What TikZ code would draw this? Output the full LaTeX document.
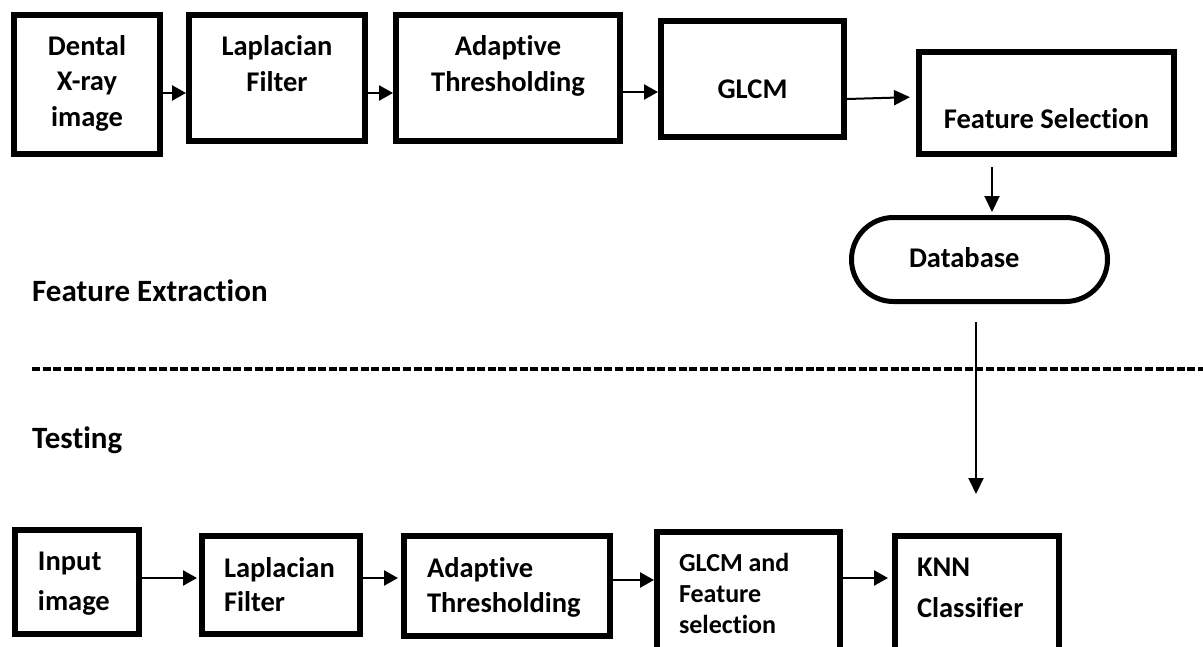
\documentclass[tikz,border=0pt]{standalone}
\usepackage{fontspec}
\setmainfont{Carlito}[Ligatures=NoCommon]
\usetikzlibrary{arrows.meta}
\newcommand\btc[5]{\parbox[c][#2pt][t]{#1pt}{\centering\baselineskip=#4pt\relax\vspace*{\dimexpr#3pt-24pt\relax}\rule{0pt}{24pt}#5\par}}
\newcommand\btl[6]{\parbox[c][#2pt][t]{#1pt}{\raggedright\leftskip=#5pt\relax\baselineskip=#4pt\relax\vspace*{\dimexpr#3pt-24pt\relax}\rule{0pt}{24pt}#6\par}}
\tikzset{
  procbox/.style={draw, line width=6pt, inner sep=0pt, font=\fontsize{28.5}{36}\selectfont\bfseries},
  dbbox/.style={draw, line width=5pt, inner sep=0pt, rounded corners=42pt, font=\fontsize{28.5}{36}\selectfont\bfseries},
  lbl/.style={inner sep=0pt, font=\fontsize{31}{37}\selectfont\bfseries},
  arr/.style={-{Triangle[length=14pt,width=15pt]}, line width=2.5pt},
  arrthin/.style={-{Triangle[length=16pt,width=15pt]}, line width=2pt},
  sep/.style={line width=4pt, dash pattern=on 8pt off 2.6pt}
}
\begin{document}
\begin{tikzpicture}[x=1pt,y=-1pt]
\useasboundingbox (0,0) rectangle (1203,646);
\clip (0,0) rectangle (1203,646);
% top row
\node[procbox] (B1) at (87,84.5) {\btc{146}{139}{40}{35.5}{Dental\\X-ray\\image}};
\node[procbox] (B2) at (277,78) {\btc{176}{126}{40}{36}{Laplacian\\Filter}};
\node[procbox] (B3) at (508,78) {\btc{224}{126}{40}{36}{Adaptive\\Thresholding}};
\node[procbox] (B4) at (752.5,79) {\btc{183}{116}{77}{36}{GLCM}};
\node[procbox] (B5) at (1046.5,103) {\btc{255}{102}{76}{36}{Feature Selection}};
\node[dbbox] (DB) at (979.5,259.5) {\btl{256}{84}{49.5}{36}{57.5}{Database}};
% labels
\node[lbl, anchor=base west] (fe) at (32,301) {Feature Extraction};
\node[lbl, anchor=base west] (ts) at (32,448) {Testing};
\draw[sep] (32,369) -- (1203,369);
% bottom row
\node[procbox] (C1) at (77,582) {\btl{124}{104}{40}{40}{23}{Input\\image}};
\node[procbox] (C2) at (281,585) {\btl{158}{98}{41}{34}{22}{Laplacian\\Filter}};
\node[procbox] (C3) at (507,586) {\btl{206}{100}{41}{35}{23}{Adaptive\\Thresholding}};
\node[procbox, font=\fontsize{26}{31}\selectfont\bfseries] (C4) at (748.5,598.5) {\btl{183}{133}{39}{31}{22}{GLCM and\\Feature\\selection}};
\node[procbox] (C5) at (977,600.5) {\btl{164}{129}{40}{41}{22}{KNN\\Classifier}};
% connectors top
\draw[arr] ([yshift=-8.5pt]B1.east) -- ([yshift=-15pt]B2.west);
\draw[arr] ([yshift=-15pt]B2.east) -- ([yshift=-15pt]B3.west);
\draw[arr] ([yshift=-14pt]B3.east) -- ([yshift=-13pt]B4.west);
\draw[arrthin, shorten >=6pt] ([yshift=-20pt]B4.east) -- ([yshift=6pt]B5.west);
\draw[arrthin, shorten <=10pt, shorten >=3pt] ([xshift=-54.5pt]B5.south) -- ([xshift=12.5pt]DB.north);
\draw[arrthin, shorten <=18pt, shorten >=39pt] ([xshift=-3.5pt]DB.south) -- ([xshift=-1pt]C5.north);
% connectors bottom
\draw[arr, shorten >=2pt] ([yshift=4pt]C1.east) -- ([yshift=7pt]C2.west);
\draw[arr, shorten >=3pt] ([yshift=7pt]C2.east) -- ([yshift=8pt]C3.west);
\draw[arr] ([yshift=6pt]C3.east) -- ([yshift=18.5pt]C4.west);
\draw[arr, shorten >=4pt] ([yshift=20.5pt]C4.east) -- ([yshift=22.5pt]C5.west);
\end{tikzpicture}
\end{document}
